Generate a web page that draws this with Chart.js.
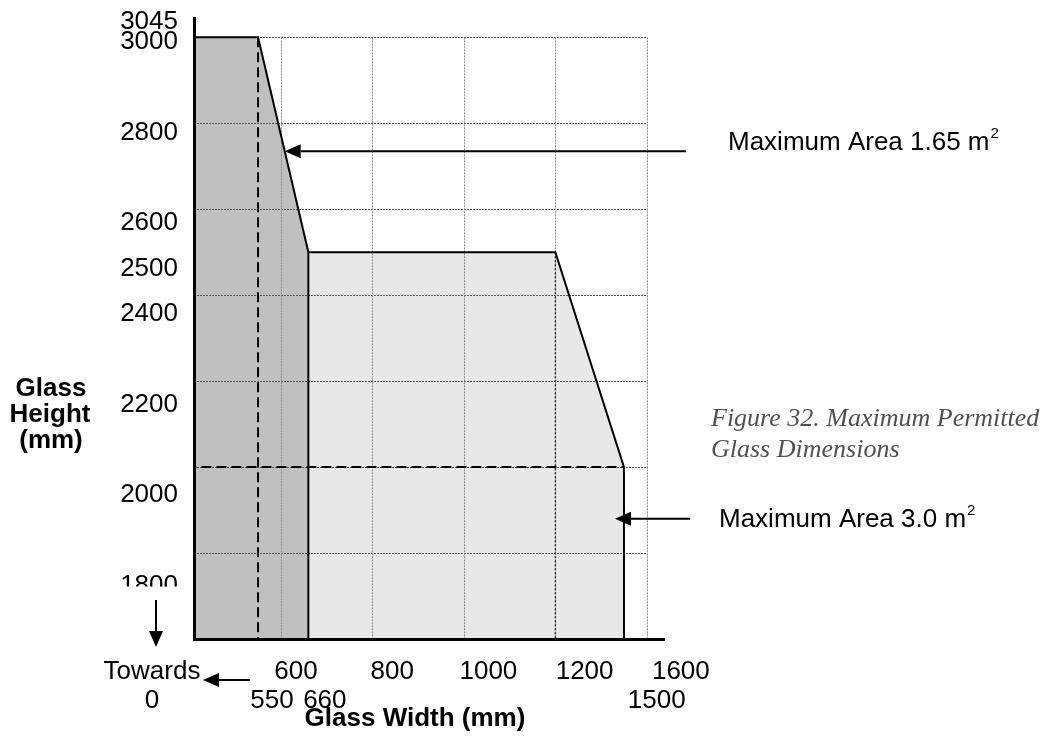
<!DOCTYPE html>
<html>
<head>
<meta charset="utf-8">
<title>Maximum Permitted Glass Dimensions</title>
<script src="https://cdn.jsdelivr.net/npm/chart.js@4.4.1/dist/chart.umd.min.js"></script>
<style>
    html, body { margin: 0; padding: 0; background: #fff; }
    #chart { display: block; }
</style>
</head>
<body>
<canvas id="chart" width="1048" height="738"></canvas>
<script>
// Контур 1.65 м² (узкое высокое стекло), 0 = "towards 0"
const narrowWidth = [0, 550, 660, 660];
const narrowHeight = [3000, 3000, 2500, 0];

// Контур 3.0 м²
const wideWidth = [660, 1200, 1500, 1500];
const wideHeight = [2500, 2500, 2000, 0];

// Пунктиры: 550 мм по ширине, 2000 мм по высоте, точечная линия на 1200
const guideWidth = [550, 550];
const guideWidthHeight = [3000, 0];
const guideHeightWidth = [0, 1500];
const guideHeight = [2000, 2000];
const dropWidth = [1200, 1200];
const dropHeight = [2500, 0];

// Сетка
const gridWidths = [600, 800, 1000, 1200, 1600];
const gridHeights = [1800, 2000, 2200, 2400, 2600, 2800, 3000];

// Подписи осей
const heightTicks = [1800, 2000, 2200, 2400, 2500, 2600, 2800, 3000, 3045];
const widthTicks = [550, 600, 660, 800, 1000, 1200, 1500, 1600];
const widthTicksLowerRow = [550, 660, 1500];
const hiddenHalfTick = 1800; // в оригинале эта подпись обрезана снизу

// Высоты, на которых стрелки указывают на контуры
const arrowNarrowHeight = 2735;
const arrowWideHeight = 1880;

const FONT = '"Liberation Sans", Arial, sans-serif';

// На рисунке ширина после 1200 мм сжата вдвое (1200–1600 занимает одну клетку)
const WIDTH_BREAK = 1200;
const warp = v => v <= WIDTH_BREAK ? v : WIDTH_BREAK + (v - WIDTH_BREAK) / 2;
const unwarp = w => w <= WIDTH_BREAK ? w : WIDTH_BREAK + (w - WIDTH_BREAK) * 2;

class SqueezedScale extends Chart.LinearScale {
    getPixelForValue(value) {
        const a = warp(this.min), b = warp(this.max);
        return this.getPixelForDecimal((warp(value) - a) / (b - a));
    }
    getValueForPixel(pixel) {
        const a = warp(this.min), b = warp(this.max);
        return unwarp(a + this.getDecimalForPixel(pixel) * (b - a));
    }
}
SqueezedScale.id = 'squeezed';
SqueezedScale.defaults = Chart.LinearScale.defaults;
Chart.register(SqueezedScale);

function points(xs, ys) {
    return xs.map((x, i) => ({ x: x, y: ys[i] }));
}

function arrow(ctx, x1, y1, x2, y2) {
    const ang = Math.atan2(y2 - y1, x2 - x1);
    const len = 16, half = 7;
    const c = Math.cos(ang), s = Math.sin(ang);
    ctx.beginPath();
    ctx.moveTo(x1, y1);
    ctx.lineTo(x2 - c * len, y2 - s * len);
    ctx.stroke();
    ctx.beginPath();
    ctx.moveTo(x2, y2);
    ctx.lineTo(x2 - c * len + s * half, y2 - s * len - c * half);
    ctx.lineTo(x2 - c * len - s * half, y2 - s * len + c * half);
    ctx.closePath();
    ctx.fill();
}

function areaLabel(ctx, text, left, baseline) {
    ctx.font = '26px ' + FONT;
    ctx.textAlign = 'left';
    ctx.textBaseline = 'alphabetic';
    ctx.fillText(text, left, baseline);
    const w = ctx.measureText(text).width;
    ctx.font = '15px ' + FONT;
    ctx.fillText('2', left + w + 1, baseline - 12);
}

const sketchPlugin = {
    id: 'sketch',
    beforeDatasetsDraw(chart) {
        // Точечная сетка только до 1600 мм и 3000 мм, как в оригинале
        const { ctx, scales: { x, y } } = chart;
        const left = x.getPixelForValue(x.min);
        const right = x.getPixelForValue(gridWidths[gridWidths.length - 1]);
        const top = y.getPixelForValue(gridHeights[gridHeights.length - 1]);
        const bottom = y.getPixelForValue(y.min);
        ctx.save();
        ctx.lineWidth = 1;
        ctx.setLineDash([2, 1]);
        ctx.strokeStyle = '#555';
        gridHeights.forEach(h => {
            const py = Math.round(y.getPixelForValue(h)) + 0.5;
            ctx.beginPath();
            ctx.moveTo(left, py);
            ctx.lineTo(right, py);
            ctx.stroke();
        });
        ctx.strokeStyle = '#8a8a8a';
        gridWidths.forEach(w => {
            const px = Math.round(x.getPixelForValue(w)) + 0.5;
            ctx.beginPath();
            ctx.moveTo(px, top);
            ctx.lineTo(px, bottom);
            ctx.stroke();
        });
        ctx.restore();
    },
    afterDraw(chart) {
        const { ctx, chartArea: area, scales: { x, y, yText } } = chart;
        ctx.save();

        // нижняя половина подписи 1800 закрыта, как в оригинале
        const cut = yText.getPixelForValue(hiddenHalfTick) + 1;
        ctx.fillStyle = '#fff';
        ctx.fillRect(100, cut, 88, 14);

        ctx.fillStyle = '#000';
        ctx.strokeStyle = '#000';
        ctx.lineWidth = 2;

        // Стрелка к наклонной линии 1.65 м²
        const t = (narrowHeight[1] - arrowNarrowHeight) / (narrowHeight[1] - narrowHeight[2]);
        const slopeWidth = narrowWidth[1] + t * (narrowWidth[2] - narrowWidth[1]);
        const ay1 = y.getPixelForValue(arrowNarrowHeight);
        arrow(ctx, area.right + 22, ay1, x.getPixelForValue(slopeWidth), ay1);
        areaLabel(ctx, 'Maximum Area 1.65 m', area.right + 64, ay1 - 1);

        // Стрелка к правому краю 3.0 м²
        const ay2 = y.getPixelForValue(arrowWideHeight);
        arrow(ctx, area.right + 26, ay2, x.getPixelForValue(wideWidth[3]) - 9, ay2);
        areaLabel(ctx, 'Maximum Area 3.0 m', area.right + 55, ay2 + 8);

        // "Towards 0"
        arrow(ctx, area.left - 38, area.bottom - 39, area.left - 38, area.bottom + 8);
        arrow(ctx, area.left + 56, area.bottom + 41, area.left + 9, area.bottom + 41);
        ctx.font = '26px ' + FONT;
        ctx.textAlign = 'center';
        ctx.textBaseline = 'middle';
        ctx.fillText('Towards', area.left - 42, area.bottom + 33);
        ctx.fillText('0', area.left - 42, area.bottom + 62);

        // Заголовки осей
        ctx.font = 'bold 26px ' + FONT;
        ctx.textBaseline = 'alphabetic';
        ctx.fillText('Glass', 51, 396);
        ctx.fillText('Height', 50, 422);
        ctx.fillText('(mm)', 51, 448);
        ctx.fillText('Glass Width (mm)', 415, 726);

        // Подпись рисунка
        ctx.font = 'italic 26px "Liberation Serif", "Times New Roman", serif';
        ctx.fillStyle = '#505050';
        ctx.textAlign = 'left';
        ctx.fillText('Figure 32. Maximum Permitted', area.right + 47, 426);
        ctx.fillText('Glass Dimensions', area.right + 47, 457);
        ctx.restore();
    }
};

const outline = { showLine: true, pointRadius: 0, borderColor: '#000', borderWidth: 2, tension: 0 };

new Chart(document.getElementById('chart'), {
    type: 'scatter',
    data: {
        datasets: [
            Object.assign({}, outline, {
                label: 'Maximum Area 3.0 m²',
                data: points(wideWidth, wideHeight),
                fill: 'start',
                backgroundColor: '#e8e8e8'
            }),
            Object.assign({}, outline, {
                label: 'Maximum Area 1.65 m²',
                data: points(narrowWidth, narrowHeight),
                fill: 'start',
                backgroundColor: '#c0c0c0'
            }),
            Object.assign({}, outline, {
                label: '1200',
                data: points(dropWidth, dropHeight),
                borderColor: '#333',
                borderWidth: 1.5,
                borderDash: [2, 2]
            }),
            Object.assign({}, outline, {
                label: '550',
                data: points(guideWidth, guideWidthHeight),
                borderDash: [10, 5]
            }),
            Object.assign({}, outline, {
                label: '2000',
                data: points(guideHeightWidth, guideHeight),
                borderDash: [10, 5]
            })
        ]
    },
    options: {
        responsive: false,
        animation: false,
        devicePixelRatio: 1,
        layout: { padding: { top: 18, right: 384, bottom: 0, left: 0 } },
        plugins: {
            legend: { display: false },
            tooltip: { enabled: false },
            filler: { drawTime: 'beforeDatasetsDraw' }
        },
        scales: {
            x: {
                type: 'squeezed',
                min: 410,
                max: 1675,
                ticks: { display: false },
                grid: { display: false, drawTicks: false },
                border: { color: '#000', width: 3, z: 1 },
                afterFit: s => { s.height = 0; }
            },
            xText: {
                type: 'squeezed',
                position: 'bottom',
                weight: 1,
                min: 388,
                max: 1530,
                grid: { display: false, drawTicks: false },
                border: { display: false },
                afterBuildTicks: s => { s.ticks = widthTicks.map(v => ({ value: v })); },
                ticks: {
                    autoSkip: false,
                    maxRotation: 0,
                    padding: 18,
                    color: '#000',
                    font: { family: FONT, size: 26, lineHeight: 1.12 },
                    callback: v => widthTicksLowerRow.includes(v) ? ['', String(v)] : String(v)
                },
                afterFit: s => { s.height = 99; s.paddingLeft = 0; s.paddingRight = 0; }
            },
            y: {
                type: 'linear',
                min: 1600,
                max: 3045,
                ticks: { display: false },
                grid: { display: false, drawTicks: false },
                border: { color: '#000', width: 3, z: 1 },
                afterFit: s => { s.width = 0; }
            },
            yText: {
                type: 'linear',
                position: 'left',
                weight: 1,
                min: 1682,
                max: 3053,
                grid: { display: false, drawTicks: false },
                border: { display: false },
                afterBuildTicks: s => { s.ticks = heightTicks.map(v => ({ value: v })); },
                ticks: {
                    autoSkip: false,
                    padding: 16,
                    color: '#000',
                    font: { family: FONT, size: 26, lineHeight: 1.12 },
                    callback: v => String(v)
                },
                afterFit: s => { s.width = 194; s.paddingTop = 0; s.paddingBottom = 0; }
            }
        }
    },
    plugins: [sketchPlugin]
});
</script>
</body>
</html>
